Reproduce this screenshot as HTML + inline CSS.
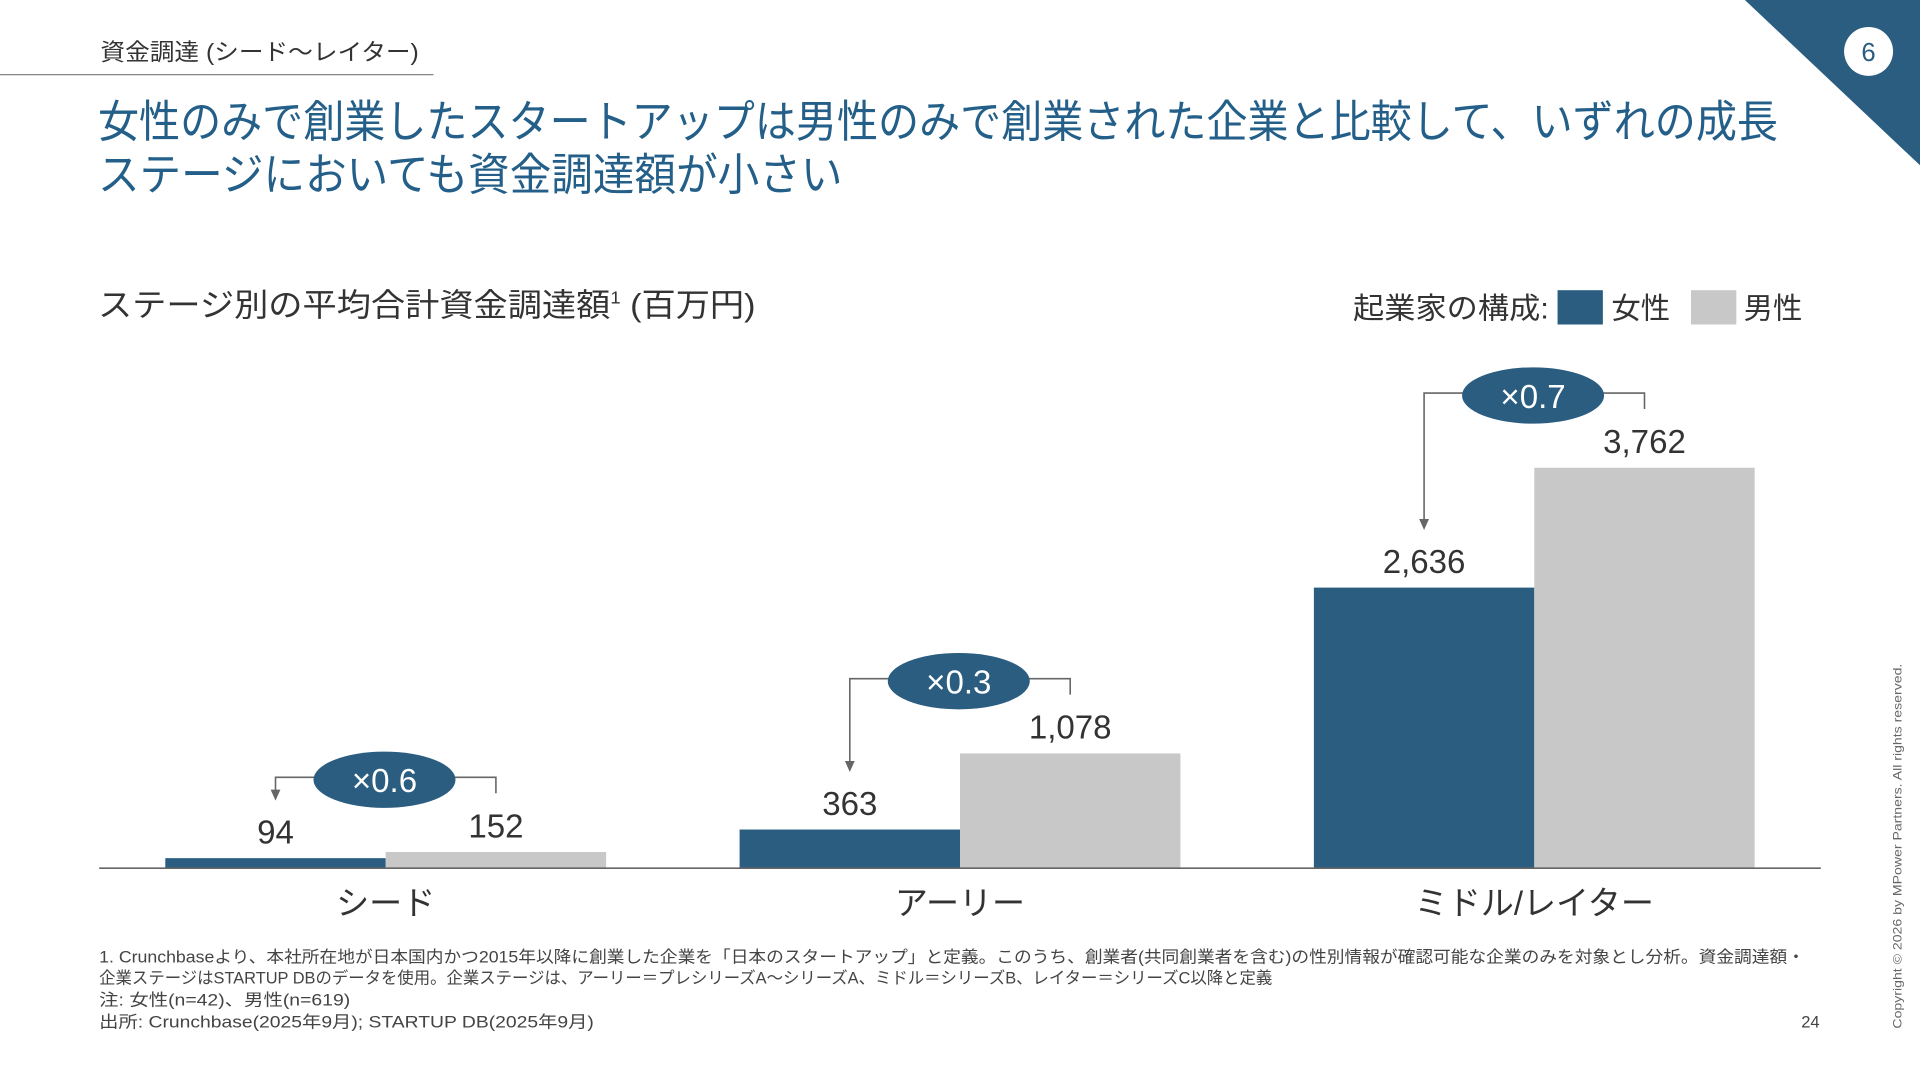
<!DOCTYPE html>
<html><head><meta charset="utf-8"><style>
html,body{margin:0;padding:0;background:#fff;width:1920px;height:1080px;overflow:hidden}
svg{display:block}
text{font-family:"Liberation Sans","Noto Sans CJK JP",sans-serif}
</style></head><body>
<svg id="s" width="1920" height="1080" viewBox="0 0 1568 882" xmlns="http://www.w3.org/2000/svg">
<text x="82" y="49" font-size="19" fill="#333" textLength="260" lengthAdjust="spacingAndGlyphs">資金調達 (シード〜レイター)</text>
<line x1="0" y1="61" x2="354" y2="61" stroke="#777" stroke-width="1"/>
<polygon points="1425,0 1568,0 1568,135" fill="#2a5d80"/>
<circle cx="1526" cy="42" r="20" fill="#fff"/>
<text x="1526" y="50" font-size="21" text-anchor="middle" fill="#2a5d80">6</text>
<text x="80" y="112" font-size="36" fill="#235f88" textLength="1372" lengthAdjust="spacingAndGlyphs">女性のみで創業したスタートアップは男性のみで創業された企業と比較して、いずれの成長</text>
<text x="80" y="155" font-size="36" fill="#235f88" textLength="608" lengthAdjust="spacingAndGlyphs">ステージにおいても資金調達額が小さい</text>
<text x="80" y="258" font-size="26" fill="#333" textLength="537" lengthAdjust="spacingAndGlyphs">ステージ別の平均合計資金調達額<tspan font-size="14" dy="-10">1</tspan><tspan dy="10"> (百万円)</tspan></text>
<g>
<text x="1105" y="260" font-size="24" fill="#333" textLength="160" lengthAdjust="spacingAndGlyphs">起業家の構成:</text>
<rect x="1272" y="237" width="37" height="28" fill="#2a5d80"/>
<text x="1316" y="260" font-size="24" fill="#333">女性</text>
<rect x="1381" y="237" width="37" height="28" fill="#c8c8c8"/>
<text x="1424" y="260" font-size="24" fill="#333">男性</text>
</g>
<g id="chart"></g>
<text x="81" y="786" font-size="13.5" fill="#444" textLength="1393" lengthAdjust="spacingAndGlyphs">1. Crunchbaseより、本社所在地が日本国内かつ2015年以降に創業した企業を「日本のスタートアップ」と定義。このうち、創業者(共同創業者を含む)の性別情報が確認可能な企業のみを対象とし分析。資金調達額・</text>
<text x="81" y="803" font-size="13.5" fill="#444" textLength="958" lengthAdjust="spacingAndGlyphs">企業ステージはSTARTUP DBのデータを使用。企業ステージは、アーリー＝プレシリーズA〜シリーズA、ミドル＝シリーズB、レイター＝シリーズC以降と定義</text>
<text x="81" y="821" font-size="13.5" fill="#444" textLength="205" lengthAdjust="spacingAndGlyphs">注: 女性(n=42)、男性(n=619)</text>
<text x="81" y="839" font-size="13.5" fill="#444" textLength="404" lengthAdjust="spacingAndGlyphs">出所: Crunchbase(2025年9月); STARTUP DB(2025年9月)</text>
<text x="1486" y="839" font-size="13.5" fill="#444" text-anchor="end">24</text>
<text transform="translate(1553,840) rotate(-90)" font-size="10" fill="#666" textLength="298" lengthAdjust="spacingAndGlyphs">Copyright © 2026 by MPower Partners. All rights reserved.</text>
</svg>
<script>
const categories=["シード","アーリー","ミドル/レイター"];
const femaleValues=[94,363,2636];
const maleValues=[152,1078,3762];
const ratioLabels=["×0.6","×0.3","×0.7"];
const NS="http://www.w3.org/2000/svg";
const g=document.getElementById("chart");
const baseY=709, plotH=327, maxV=3762;
const y=v=>baseY-v/maxV*plotH;
const groupX=i=>315+i*469;
const barW=180;
function mk(tag,attrs,txt){const e=document.createElementNS(NS,tag);for(const k in attrs)e.setAttribute(k,attrs[k]);if(txt!==undefined)e.textContent=txt;g.appendChild(e);return e;}
const fmt=v=>v.toLocaleString("en-US");
categories.forEach((c,i)=>{
  const cx=groupX(i);
  const fy=y(femaleValues[i]), my=y(maleValues[i]);
  let r=mk("rect",{x:cx-barW,y:fy,width:barW,height:baseY-fy,fill:"#2a5d80"});
  
  
  r=mk("rect",{x:cx,y:my,width:barW,height:baseY-my,fill:"#c8c8c8"});
  
  
  let t=mk("text",{x:cx-barW/2,y:fy-12,"font-size":27,"text-anchor":"middle",fill:"#333"},fmt(femaleValues[i]));
  
  
  t=mk("text",{x:cx+barW/2,y:my-12,"font-size":27,"text-anchor":"middle",fill:"#333"},fmt(maleValues[i]));
  
  
  t=mk("text",{x:cx,y:747,"font-size":27,"text-anchor":"middle",fill:"#333"},c);
  
  
  const by=my-61;
  const lx=cx-barW/2, rx=cx+barW/2;
  const arrowEnd=fy-47;
  let p=mk("path",{d:`M${rx} ${by+13} V${by} H${lx} V${arrowEnd-8}`,fill:"none",stroke:"#666","stroke-width":1.3});
  
  
  p=mk("polygon",{points:`${lx-4},${arrowEnd-9} ${lx+4},${arrowEnd-9} ${lx},${arrowEnd}`,fill:"#666"});
  
  
  let e=mk("ellipse",{cx:cx-1,cy:by+2,rx:58,ry:23,fill:"#2a5d80"});
  
  
  t=mk("text",{x:cx-1,y:by+12,"font-size":27,"text-anchor":"middle",fill:"#fff"},ratioLabels[i]);
  
  
});
const ax=mk("line",{x1:81,y1:baseY,x2:1487,y2:baseY,stroke:"#666","stroke-width":1.3});


</script>
</body></html>
